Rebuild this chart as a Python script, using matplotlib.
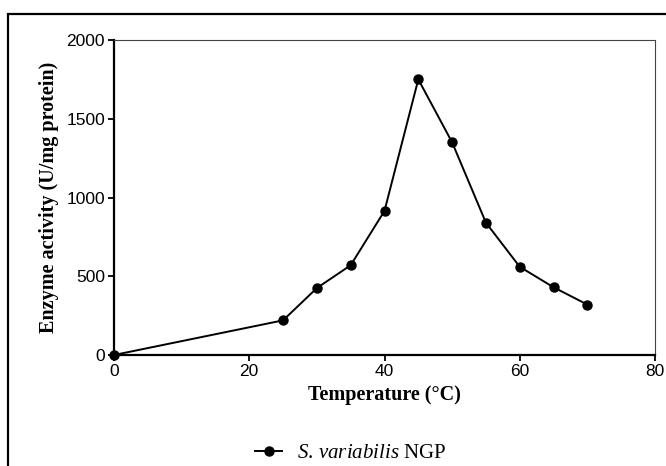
import matplotlib
matplotlib.use("Agg")
import matplotlib.pyplot as plt
from matplotlib.patches import Rectangle

# temperature profile of enzyme activity
temperature = [0, 25, 30, 35, 40, 45, 50, 55, 60, 65, 70]
activity = [0, 220, 425, 570, 915, 1750, 1350, 840, 560, 430, 320]
x_ticks = [0, 20, 40, 60, 80]
y_ticks = [0, 500, 1000, 1500, 2000]

plt.rcParams['mathtext.fontset'] = 'custom'
plt.rcParams['mathtext.it'] = 'Liberation Serif:italic'
plt.rcParams['mathtext.rm'] = 'Liberation Serif'

fig = plt.figure(figsize=(6.66, 4.66), dpi=100)
ax = fig.add_axes([114/666, 1-355/466, (655-114)/666, (355-40)/466])

# outer frame round the figure
fig.patches.append(Rectangle((8/666, -0.1), 1.2, 1 - 14/466 + 0.1,
                             transform=fig.transFigure, fill=False,
                             edgecolor='black', linewidth=1.6))

ax.plot(temperature, activity, color='black', linewidth=1.4, marker='o',
        markersize=6.5, clip_on=False, zorder=3,
        label='$\\it{S.\\,variabilis}$ NGP')

ax.set_xlim(0, 80)
ax.set_ylim(0, 2000)
ax.set_xticks(x_ticks)
ax.set_yticks(y_ticks)

for s in ['left', 'bottom']:
    ax.spines[s].set_linewidth(1.6)
    ax.spines[s].set_color('black')
for s in ['top', 'right']:
    ax.spines[s].set_linewidth(0.8)
    ax.spines[s].set_color('#444444')

ax.tick_params(direction='out', length=4.5, width=1.3, labelsize=12.5, pad=2)
for lab in ax.get_xticklabels() + ax.get_yticklabels():
    lab.set_family('Liberation Sans')

ax.set_xlabel('Temperature (\u00b0C)', family='Liberation Serif',
              fontweight='bold', fontsize=14.5, labelpad=4)
ax.set_ylabel('Enzyme activity (U/mg protein)', family='Liberation Serif',
              fontweight='bold', fontsize=14.5, labelpad=5)

leg = fig.legend(loc='center left', bbox_to_anchor=(255/666, 1 - 453/466),
                 frameon=False, prop={'family': 'Liberation Serif', 'size': 15},
                 handlelength=1.3, handletextpad=0.7, borderpad=0,
                 borderaxespad=0)

fig.savefig('out.png', dpi=100)
